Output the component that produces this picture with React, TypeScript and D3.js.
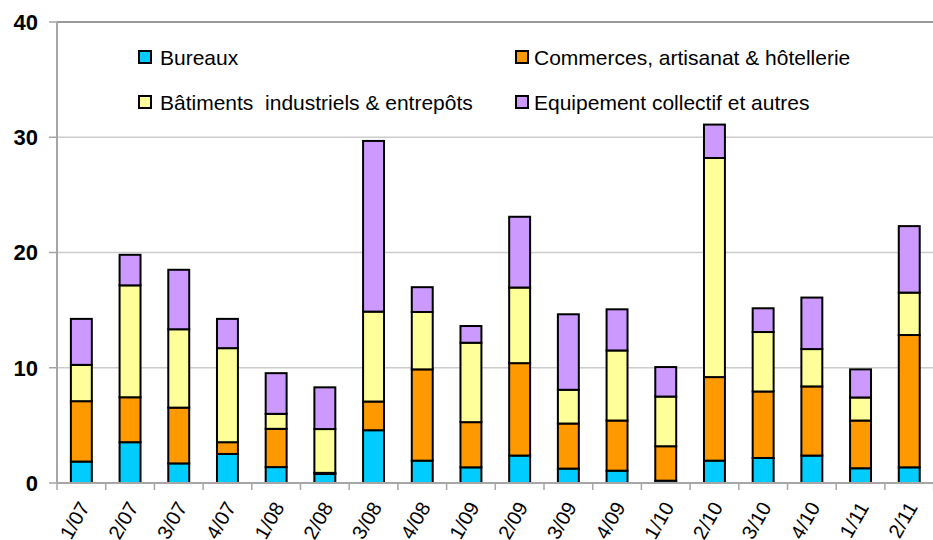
import * as d3 from "d3";
import { useEffect, useRef } from "react";

const quarters = ["1/07", "2/07", "3/07", "4/07", "1/08", "2/08", "3/08", "4/08", "1/09", "2/09", "3/09", "4/09", "1/10", "2/10", "3/10", "4/10", "1/11", "2/11"];
const bureaux = [1.86, 3.54, 1.7, 2.52, 1.38, 0.78, 4.58, 1.94, 1.36, 2.38, 1.25, 1.07, 0.2, 1.94, 2.17, 2.38, 1.28, 1.36];
const commerces = [5.24, 3.9, 4.84, 1.02, 3.32, 0.1, 2.49, 7.92, 3.92, 8.02, 3.91, 4.35, 2.99, 7.25, 5.77, 6.0, 4.14, 11.48];
const batiments = [3.15, 9.71, 6.8, 8.16, 1.3, 3.8, 7.8, 4.98, 6.89, 6.56, 2.93, 6.08, 4.31, 19.01, 5.16, 3.24, 2.0, 3.68];
const equipement = [3.99, 2.65, 5.16, 2.54, 3.53, 3.62, 14.81, 2.15, 1.45, 6.14, 6.55, 3.57, 2.56, 2.9, 2.06, 4.47, 2.44, 5.77];
const seriesNames = ["Bureaux", "Commerces, artisanat & hôtellerie", "Bâtiments\u00a0 industriels & entrepôts", "Equipement collectif et autres"];
const colors = ["#00ccff", "#ff9900", "#ffff99", "#cc99ff"];
const yTicks = [0, 10, 20, 30, 40];

function App() {
	const ref = useRef<SVGSVGElement>(null);

	useEffect(() => {
		const svg = d3.select(ref.current);
		svg.selectAll("*").remove();
		const width = 933;
		const left = 57;
		const top = 22;
		const bottom = 483;
		const font = "Liberation Sans, Arial, sans-serif";

		const rows = quarters.map((q, i) => ({
			q,
			v: [bureaux[i], commerces[i], batiments[i], equipement[i]],
		}));
		const stack = d3
			.stack<{ q: string; v: number[] }, number>()
			.keys([0, 1, 2, 3])
			.value((d, k) => d.v[k]);
		const stacked = stack(rows);

		const x = d3.scaleBand().domain(quarters).range([left, left + 18 * 48.7]).paddingInner(0.57).paddingOuter(0.285);
		const xb = d3.scaleLinear().domain([0, 18]).range([left, left + 18 * 48.7]);
		const y = d3.scaleLinear().domain([0, 40]).range([bottom, top]);

		// gridlines
		svg.append("g")
			.selectAll("line")
			.data(yTicks.slice(1, 4))
			.enter()
			.append("line")
			.attr("x1", left)
			.attr("x2", width)
			.attr("y1", (d) => y(d))
			.attr("y2", (d) => y(d))
			.attr("stroke", "#cccccc")
			.attr("stroke-width", 1.5);

		// top border
		svg.append("line")
			.attr("x1", left)
			.attr("x2", width)
			.attr("y1", top)
			.attr("y2", top)
			.attr("stroke", "#999999")
			.attr("stroke-width", 2);

		// bars
		svg.append("g")
			.selectAll("g")
			.data(stacked)
			.enter()
			.append("g")
			.attr("fill", (_, i) => colors[i])
			.selectAll("rect")
			.data((d) => d)
			.enter()
			.append("rect")
			.attr("x", (d) => x(d.data.q)!)
			.attr("width", x.bandwidth())
			.attr("y", (d) => y(d[1]))
			.attr("height", (d) => y(d[0]) - y(d[1]))
			.attr("stroke", "#000")
			.attr("stroke-width", 2);

		// y axis
		svg.append("line")
			.attr("x1", left)
			.attr("x2", left)
			.attr("y1", top)
			.attr("y2", bottom)
			.attr("stroke", "#a6a6a6")
			.attr("stroke-width", 2);
		const yg = svg.append("g");
		yTicks.forEach((t) => {
			yg.append("line")
				.attr("x1", left - 8)
				.attr("x2", left)
				.attr("y1", y(t))
				.attr("y2", y(t))
				.attr("stroke", "#a6a6a6")
				.attr("stroke-width", 1.5);
			yg.append("text")
				.attr("x", 38)
				.attr("y", y(t))
				.attr("dy", "0.36em")
				.attr("text-anchor", "end")
				.style("font-family", font)
				.style("font-weight", "bold")
				.style("font-size", "22px")
				.text(t);
		});

		// x axis
		svg.append("line")
			.attr("x1", left)
			.attr("x2", width)
			.attr("y1", bottom)
			.attr("y2", bottom)
			.attr("stroke", "#a6a6a6")
			.attr("stroke-width", 2);
		const xg = svg.append("g");
		d3.range(0, 19).forEach((i) => {
			xg.append("line")
				.attr("x1", xb(i))
				.attr("x2", xb(i))
				.attr("y1", bottom)
				.attr("y2", bottom + 7)
				.attr("stroke", "#a6a6a6")
				.attr("stroke-width", 1.5);
		});
		quarters.forEach((q) => {
			const cx = x(q)! + x.bandwidth() / 2 + 9;
			xg.append("text")
				.attr("transform", "translate(" + cx + "," + (bottom + 24) + ") rotate(-60)")
				.attr("text-anchor", "end")
				.style("font-family", font)
				.style("font-size", "20px")
				.text(q);
		});

		// legend
		const legendPos = [
			[139, 57],
			[516, 57],
			[139, 102],
			[516, 102],
		];
		const lg = svg.append("g");
		seriesNames.forEach((name, i) => {
			lg.append("rect")
				.attr("x", legendPos[i][0])
				.attr("y", legendPos[i][1] - 6)
				.attr("width", 12)
				.attr("height", 12)
				.attr("fill", colors[i])
				.attr("stroke", "#000")
				.attr("stroke-width", 2);
			lg.append("text")
				.attr("x", legendPos[i][0] + (i % 2 === 0 ? 21 : 18))
				.attr("y", legendPos[i][1] + 8)
				.style("font-family", font)
				.style("font-size", "21px")
				.text(name);
		});
	}, []);

	return (
		<svg
			ref={ref}
			width={933}
			height={540}
			style={{ position: "absolute", left: 0, top: 0, background: "#fff" }}
		></svg>
	);
}

export default App;
